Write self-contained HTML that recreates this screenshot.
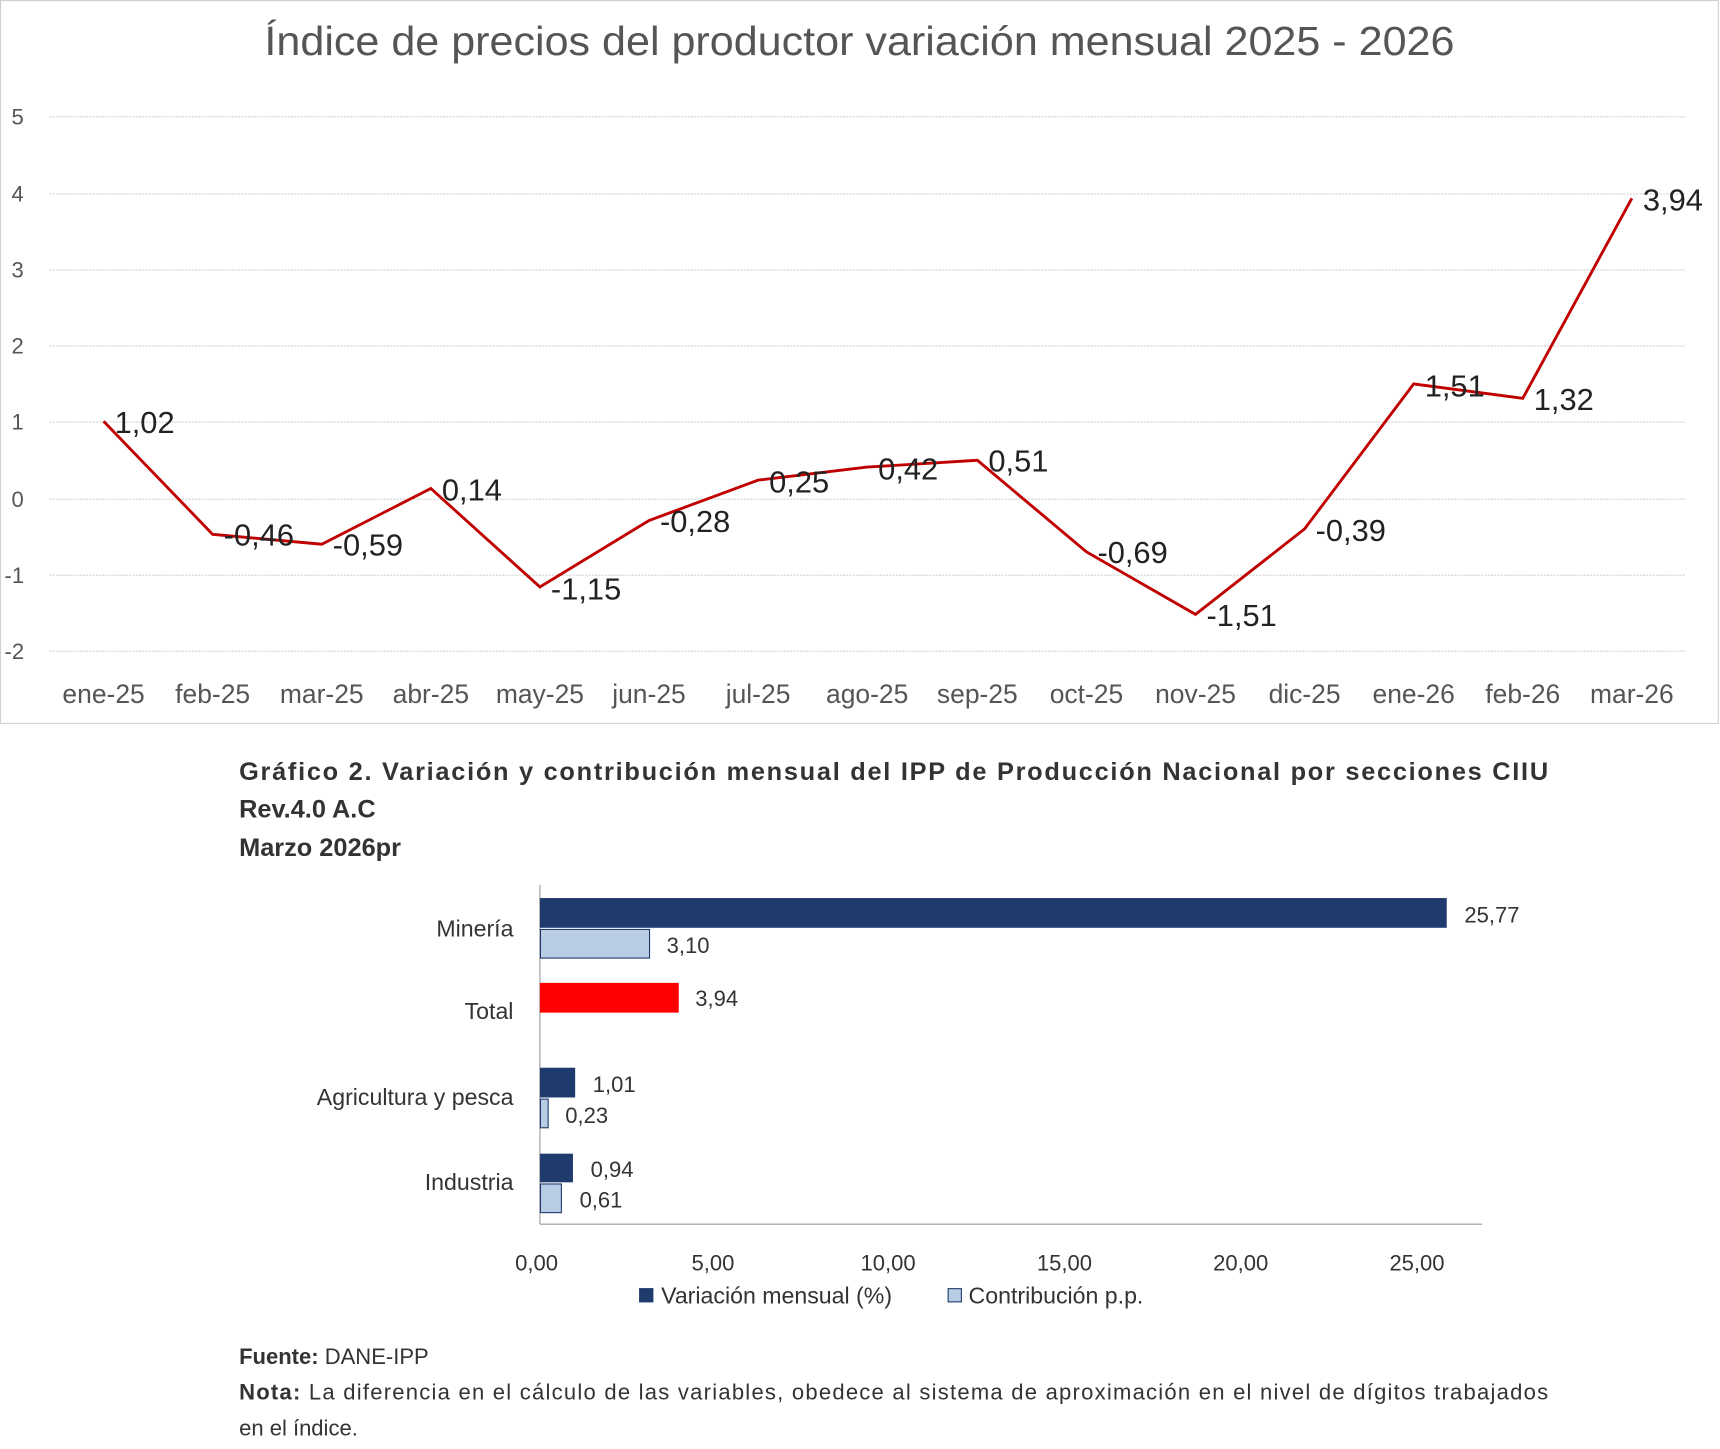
<!DOCTYPE html>
<html><head><meta charset="utf-8"><style>html,body{margin:0;padding:0;background:#fff}svg{display:block}</style></head><body>
<svg width="1720" height="1449" viewBox="0 0 1561 1315" xmlns="http://www.w3.org/2000/svg" font-family="Liberation Sans, sans-serif">
<rect x="0.5" y="0.5" width="1559" height="656" fill="#fff" stroke="#d0d0d0"/>
<text x="240" y="50" font-size="37" fill="#555" textLength="1080" lengthAdjust="spacingAndGlyphs">Índice de precios del productor variación mensual 2025 - 2026</text>
<g stroke="#d4d4d4" stroke-width="1" stroke-dasharray="2,1">
<line x1="45" x2="1530" y1="106" y2="106"/><line x1="45" x2="1530" y1="176" y2="176"/><line x1="45" x2="1530" y1="245" y2="245"/><line x1="45" x2="1530" y1="314" y2="314"/><line x1="45" x2="1530" y1="383" y2="383"/><line x1="45" x2="1530" y1="453" y2="453"/><line x1="45" x2="1530" y1="522" y2="522"/><line x1="45" x2="1530" y1="591" y2="591"/>
</g>
<g font-size="20" fill="#555" text-anchor="middle">
<text x="16" y="113">5</text><text x="16" y="183">4</text><text x="16" y="252">3</text><text x="16" y="321">2</text><text x="16" y="390">1</text><text x="16" y="460">0</text><text x="13" y="529">-1</text><text x="13" y="598">-2</text>
</g>
<g font-size="24" fill="#555" text-anchor="middle">
<text x="94" y="638">ene-25</text><text x="193" y="638">feb-25</text><text x="292" y="638">mar-25</text><text x="391" y="638">abr-25</text><text x="490" y="638">may-25</text><text x="589" y="638">jun-25</text><text x="688" y="638">jul-25</text><text x="787" y="638">ago-25</text><text x="887" y="638">sep-25</text><text x="986" y="638">oct-25</text><text x="1085" y="638">nov-25</text><text x="1184" y="638">dic-25</text><text x="1283" y="638">ene-26</text><text x="1382" y="638">feb-26</text><text x="1481" y="638">mar-26</text>
</g>
<polyline fill="none" stroke="#c00000" stroke-width="2.6" points="94,382.3 193,484.9 292,493.9 391,443.3 490,532.7 589,472.4 688,435.7 787,423.9 887,417.7 986,500.8 1085,557.6 1184,480 1283,348.4 1382,361.5 1481,180"/>
<g font-size="28" fill="#222">
<text x="104" y="393">1,02</text><text x="203" y="495">-0,46</text><text x="302" y="504">-0,59</text><text x="401" y="454">0,14</text><text x="500" y="544">-1,15</text><text x="599" y="483">-0,28</text><text x="698" y="447">0,25</text><text x="797" y="435">0,42</text><text x="897" y="428">0,51</text><text x="996" y="511">-0,69</text><text x="1095" y="568">-1,51</text><text x="1194" y="491">-0,39</text><text x="1293" y="360">1,51</text><text x="1392" y="372">1,32</text><text x="1491" y="191">3,94</text>
</g>
<g font-size="23" font-weight="bold" fill="#333">
<text x="217" y="708" textLength="1188" lengthAdjust="spacing">Gráfico 2. Variación y contribución mensual del IPP de Producción Nacional por secciones CIIU</text>
<text x="217" y="742">Rev.4.0 A.C</text>
<text x="217" y="777">Marzo 2026pr</text>
</g>
<line x1="490" y1="803" x2="490" y2="1111" stroke="#999"/>
<line x1="490" y1="1111" x2="1345" y2="1111" stroke="#999"/>
<rect x="490" y="815" width="823" height="27" fill="#1f3b6e"/>
<rect x="490.5" y="843.5" width="99" height="26" fill="#b8cce4" stroke="#1f3b6e"/>
<rect x="490" y="892" width="126" height="27" fill="#ff0000"/>
<rect x="490" y="969" width="32" height="27" fill="#1f3b6e"/>
<rect x="490.5" y="997.5" width="7" height="26" fill="#b8cce4" stroke="#1f3b6e"/>
<rect x="490" y="1047" width="30" height="26" fill="#1f3b6e"/>
<rect x="490.5" y="1074.5" width="19" height="26" fill="#b8cce4" stroke="#1f3b6e"/>
<g font-size="21" fill="#333" text-anchor="end">
<text x="466" y="850">Minería</text><text x="466" y="925">Total</text><text x="466" y="1003">Agricultura y pesca</text><text x="466" y="1080">Industria</text>
</g>
<g font-size="20" fill="#333">
<text x="1329" y="837">25,77</text><text x="605" y="865">3,10</text><text x="631" y="913">3,94</text><text x="538" y="991">1,01</text><text x="513" y="1019">0,23</text><text x="536" y="1068">0,94</text><text x="526" y="1096">0,61</text>
</g>
<g font-size="20" fill="#333" text-anchor="middle">
<text x="487" y="1153">0,00</text><text x="647" y="1153">5,00</text><text x="806" y="1153">10,00</text><text x="966" y="1153">15,00</text><text x="1126" y="1153">20,00</text><text x="1286" y="1153">25,00</text>
</g>
<rect x="580" y="1169" width="13" height="13" fill="#1f3b6e"/>
<text x="600" y="1183" font-size="21" fill="#333">Variación mensual (%)</text>
<rect x="860.5" y="1169.5" width="12" height="12" fill="#b8cce4" stroke="#1f3b6e"/>
<text x="879" y="1183" font-size="21" fill="#333">Contribución p.p.</text>
<g font-size="20" fill="#333">
<text x="217" y="1238"><tspan font-weight="bold">Fuente:</tspan> DANE-IPP</text>
<text x="217" y="1270" textLength="1188" lengthAdjust="spacing"><tspan font-weight="bold">Nota:</tspan> La diferencia en el cálculo de las variables, obedece al sistema de aproximación en el nivel de dígitos trabajados</text>
<text x="217" y="1303">en el índice.</text>
</g>
</svg>
</body></html>
